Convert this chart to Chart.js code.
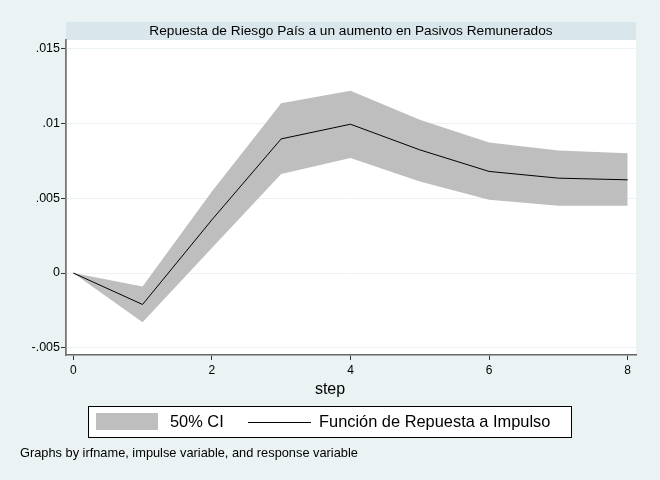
<!DOCTYPE html>
<html>
<head>
<meta charset="utf-8">
<script src="https://cdn.jsdelivr.net/npm/chart.js@4"></script>
<style>
  html, body { margin: 0; padding: 0; background: #EAF2F3; }
  #wrap { width: 660px; height: 480px; }
</style>
</head>
<body>
<div id="wrap"><canvas id="irfChart" width="660" height="480"></canvas></div>
<script>
// datos
let steps = [0, 1, 2, 3, 4, 5, 6, 7, 8];
let irf = [0, -0.0021, 0.00355, 0.00895, 0.00993, 0.00822, 0.00678, 0.00633, 0.00622];
let ciUpper = [0, -0.0009, 0.00544, 0.01133, 0.01217, 0.01022, 0.00871, 0.00818, 0.0080];
let ciLower = [0, -0.00329, 0.00167, 0.0066, 0.00767, 0.00611, 0.00489, 0.00449, 0.00449];
let xTicks = [0, 2, 4, 6, 8];
let yTicks = [-0.005, 0, 0.005, 0.01, 0.015];

let titleText = "Repuesta de Riesgo País a un aumento en Pasivos Remunerados";
let xTitle = "step";
let legendCI = "50% CI";
let legendIrf = "Función de Repuesta a Impulso";
let noteText = "Graphs by irfname, impulse variable, and response variable";

const FONT = '"Liberation Sans", Arial, sans-serif';

function fmtTick(v) {
    if (Math.abs(v) < 1e-12) return "0";
    let s = String(Math.round(v * 1000) / 1000);
    return s.replace("0.", ".");
}

function pts(ys) {
    return steps.map((x, i) => ({ x: x, y: ys[i] }));
}

// fondo, banda del título, leyenda y nota
const stataDecor = {
    id: 'stataDecor',
    beforeDraw(chart) {
        let c = chart.ctx;
        let a = chart.chartArea;
        c.save();
        c.fillStyle = '#EAF2F3';
        c.fillRect(0, 0, chart.width, chart.height);
        c.fillStyle = '#FFFFFF';
        c.fillRect(a.left, a.top, a.right - a.left, a.bottom - a.top);
        // banda del título
        c.fillStyle = '#D9E6EB';
        c.fillRect(a.left, 22, a.right - a.left, a.top - 22);
        c.fillStyle = '#000';
        c.font = '13.7px ' + FONT;
        c.textAlign = 'center';
        c.textBaseline = 'middle';
        c.fillText(titleText, (a.left + a.right) / 2, 31);
        c.restore();
    },
    afterDraw(chart) {
        let c = chart.ctx;
        c.save();
        // título del eje x
        c.fillStyle = '#000';
        c.font = '16px ' + FONT;
        c.textAlign = 'center';
        c.textBaseline = 'middle';
        c.fillText(xTitle, 330, 390);

        // leyenda
        c.fillStyle = '#FFFFFF';
        c.fillRect(88.5, 406.5, 483, 31);
        c.strokeStyle = '#000';
        c.lineWidth = 1;
        c.strokeRect(88.5, 406.5, 483, 31);
        c.fillStyle = '#BEBEBE';
        c.fillRect(96, 413, 62, 17);
        c.beginPath();
        c.moveTo(248, 422.5);
        c.lineTo(311, 422.5);
        c.stroke();
        c.fillStyle = '#000';
        c.font = '16.4px ' + FONT;
        c.textAlign = 'left';
        c.fillText(legendCI, 170, 422);
        c.fillText(legendIrf, 319, 422);

        // nota
        c.font = '12.8px ' + FONT;
        c.fillText(noteText, 20, 453);
        c.restore();
    }
};

let ctx = document.getElementById('irfChart').getContext('2d');
let irfChart = new Chart(ctx, {
    type: 'line',
    data: {
        datasets: [
            {
                label: legendCI,
                data: pts(ciUpper),
                borderWidth: 0,
                pointRadius: 0,
                backgroundColor: '#BEBEBE',
                fill: '+1',
                order: 2
            },
            {
                label: 'lower',
                data: pts(ciLower),
                borderWidth: 0,
                pointRadius: 0,
                fill: false,
                order: 1
            },
            {
                label: legendIrf,
                data: pts(irf),
                borderColor: '#000000',
                borderWidth: 1,
                pointRadius: 0,
                fill: false,
                order: 0
            }
        ]
    },
    options: {
        responsive: false,
        animation: false,
        layout: { padding: { left: 0, top: 40, right: 24, bottom: 0 } },
        scales: {
            x: {
                type: 'linear',
                min: -0.105,
                max: 8.12,
                afterBuildTicks: s => { s.ticks = xTicks.map(v => ({ value: v })); },
                afterFit: s => { s.height = 125; },
                ticks: {
                    color: '#000',
                    font: { family: FONT, size: 12 },
                    padding: 3,
                    maxRotation: 0,
                    callback: v => String(v)
                },
                grid: { drawOnChartArea: false, drawTicks: true, tickLength: 5, tickColor: '#333' },
                border: { color: '#666', width: 1.6 }
            },
            y: {
                min: -0.00547,
                max: 0.01555,
                afterBuildTicks: s => { s.ticks = yTicks.map(v => ({ value: v })); },
                afterFit: s => { s.width = 66; },
                ticks: {
                    color: '#000',
                    font: { family: FONT, size: 12.5 },
                    padding: 1,
                    callback: v => fmtTick(v)
                },
                grid: { color: '#EAF2F3', lineWidth: 1, tickLength: 5, tickColor: '#333' },
                border: { color: '#777', width: 1.8 }
            }
        },
        plugins: {
            legend: { display: false },
            tooltip: { enabled: false },
            filler: { drawTime: 'beforeDatasetsDraw' }
        }
    },
    plugins: [stataDecor]
});
</script>
</body>
</html>
